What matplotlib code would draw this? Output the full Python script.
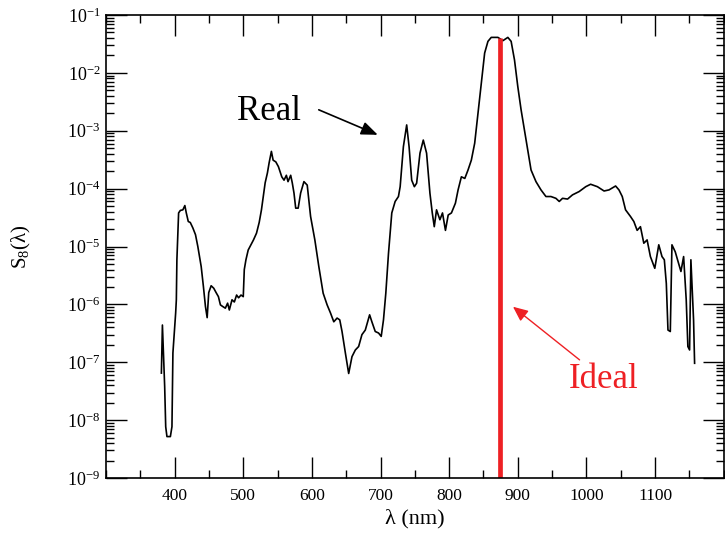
import matplotlib
matplotlib.use("Agg")
import matplotlib.pyplot as plt
from matplotlib.ticker import LogLocator, MultipleLocator, NullFormatter

plt.rcParams['font.family'] = ['Liberation Serif', 'DejaVu Serif']
plt.rcParams['mathtext.fontset'] = 'custom'
plt.rcParams['mathtext.rm'] = 'Liberation Serif'
plt.rcParams['mathtext.it'] = 'Liberation Serif:italic'

wavelength = [380.7, 382.2, 385.5, 387.0, 388.8, 393.8, 396.1, 397.5, 401.5, 402.5,
              403.3, 405.8, 408.3, 412.0, 414.9, 417.0, 419.9, 422.8, 426.5, 430.4,
              433.8, 438.7, 442.0, 444.9, 447.4, 449.7, 453.2, 457.0, 460.4, 463.8,
              466.7, 470.0, 473.9, 477.2, 479.7, 483.6, 487.0, 490.3, 493.2, 496.7,
              500.0, 501.5, 503.9, 507.2, 511.2, 514.9, 519.3, 523.2, 526.5, 531.9,
              535.2, 537.7, 541.0, 543.5, 547.4, 551.2, 556.1, 559.4, 562.8, 565.2,
              569.1, 571.4, 573.9, 576.4, 580.0, 583.6, 588.4, 593.2, 598.1, 604.3,
              610.1, 616.4, 622.2, 627.1, 631.9, 636.7, 640.6, 643.9, 648.8, 653.6,
              658.4, 663.3, 668.1, 672.9, 677.8, 684.1, 687.4, 692.3, 697.1, 701.0,
              704.3, 707.7, 711.6, 716.4, 721.3, 726.1, 728.6, 733.3, 738.1, 741.6,
              745.4, 749.3, 752.6, 757.5, 762.3, 767.1, 772.0, 775.4, 778.3, 781.6,
              786.5, 790.3, 794.6, 798.6, 803.3, 809.1, 813.0, 817.8, 822.8, 827.5,
              832.3, 837.2, 842.0, 846.7, 851.7, 856.5, 861.3, 871.0, 878.3, 885.5,
              890.3, 895.2, 900.0, 904.8, 909.7, 914.5, 919.3, 926.5, 933.8, 941.0,
              948.3, 955.5, 960.4, 965.2, 972.5, 979.7, 989.4, 999.0, 1006.1, 1016.0,
              1025.7, 1032.9, 1042.5, 1047.4, 1052.2, 1057.0, 1064.2, 1069.1, 1073.9, 1078.7,
              1083.6, 1088.4, 1093.2, 1099.6, 1105.4, 1110.1, 1113.5, 1116.4, 1118.8, 1122.2,
              1124.6, 1129.4, 1134.3, 1137.7, 1141.6, 1145.4, 1147.8, 1150.3, 1152.2, 1154.1,
              1156.1, 1157.6]

s8_real = [6.5e-8, 4.4e-7, 3.8e-8, 7.7e-9, 5.2e-9, 5.2e-9, 7.7e-9, 1.45e-7, 7.1e-7, 1.2e-6,
           5.9e-6, 3.8e-5, 4.2e-5, 4.3e-5, 5.1e-5, 3.8e-5, 2.7e-5, 2.6e-5, 2.1e-5, 1.6e-5,
           1.0e-5, 4.5e-6, 2.0e-6, 9.2e-7, 5.9e-7, 1.6e-6, 2.1e-6, 1.9e-6, 1.6e-6, 1.36e-6,
           9.8e-7, 9.2e-7, 8.6e-7, 1.05e-6, 8.0e-7, 1.2e-6, 1.1e-6, 1.45e-6, 1.3e-6, 1.45e-6,
           1.36e-6, 4.0e-6, 5.9e-6, 8.7e-6, 1.07e-5, 1.3e-5, 1.7e-5, 2.6e-5, 4.3e-5, 1.26e-4,
           1.87e-4, 2.8e-4, 4.4e-4, 3.1e-4, 2.9e-4, 2.4e-4, 1.6e-4, 1.4e-4, 1.7e-4, 1.32e-4,
           1.7e-4, 1.26e-4, 8.4e-5, 4.6e-5, 4.6e-5, 8.4e-5, 1.32e-4, 1.15e-4, 3.3e-5, 1.3e-5,
           4.5e-6, 1.56e-6, 9.8e-7, 7.1e-7, 5.0e-7, 5.8e-7, 5.4e-7, 3.4e-7, 1.44e-7, 6.4e-8,
           1.25e-7, 1.63e-7, 1.87e-7, 3.0e-7, 3.6e-7, 6.6e-7, 5.0e-7, 3.4e-7, 3.2e-7, 2.8e-7,
           5.4e-7, 1.56e-6, 7.6e-6, 3.8e-5, 6.0e-5, 7.3e-5, 1.08e-4, 5.3e-4, 1.26e-3, 5.3e-4,
           1.4e-4, 1.08e-4, 1.24e-4, 4.1e-4, 6.9e-4, 4.1e-4, 8.3e-5, 3.8e-5, 2.2e-5, 4.3e-5,
           2.9e-5, 3.8e-5, 1.9e-5, 3.5e-5, 3.8e-5, 5.6e-5, 9.5e-5, 1.6e-4, 1.5e-4, 2.1e-4,
           3.1e-4, 6.1e-4, 2.0e-3, 6.6e-3, 2.2e-2, 3.5e-2, 4.1e-2, 4.1e-2, 3.6e-2, 4.1e-2,
           3.5e-2, 1.67e-2, 5.8e-3, 2.3e-3, 1.03e-3, 4.7e-4, 2.1e-4, 1.32e-4, 9.5e-5, 7.3e-5,
           7.3e-5, 6.8e-5, 6.0e-5, 6.8e-5, 6.6e-5, 7.8e-5, 8.9e-5, 1.08e-4, 1.19e-4, 1.08e-4,
           9.1e-5, 9.5e-5, 1.11e-4, 9.5e-5, 7.3e-5, 4.3e-5, 3.3e-5, 2.7e-5, 1.9e-5, 2.2e-5,
           1.14e-5, 1.3e-5, 6.7e-6, 4.2e-6, 1.07e-5, 6.7e-6, 5.9e-6, 2.3e-6, 3.6e-7, 3.4e-7,
           1.07e-5, 8.1e-6, 5.1e-6, 3.7e-6, 6.7e-6, 1.2e-6, 1.87e-7, 1.63e-7, 5.9e-6, 1.78e-6,
           5.4e-7, 9.6e-8]

# ideal filter: a single line
ideal_wl = 874
ideal_top = 4.0e-2

x_ticks = [400, 500, 600, 700, 800, 900, 1000, 1100]
y_ticks = [1e-9, 1e-8, 1e-7, 1e-6, 1e-5, 1e-4, 1e-3, 1e-2, 1e-1]

fig = plt.figure(figsize=(7.25, 5.35), dpi=100)
ax = fig.add_axes([0.1462, 0.1065, 0.852, 0.8655])

ax.plot(wavelength, s8_real, color='black', lw=1.2)
ax.plot([ideal_wl, ideal_wl], [1e-9, ideal_top], color='#ee2024', lw=3.4, solid_capstyle='butt')

ax.set_yscale('log')
ax.set_xlim(300, 1200)
ax.set_ylim(1e-9, 1e-1)

ax.set_xticks(x_ticks)
ax.xaxis.set_minor_locator(MultipleLocator(50))
ax.set_yticks(y_ticks)
ax.yaxis.set_minor_locator(LogLocator(base=10, subs=range(2, 10), numticks=20))
ax.yaxis.set_minor_formatter(NullFormatter())

ax.tick_params(which='both', direction='in', top=True, right=True, width=1.0)
ax.tick_params(axis='x', labelsize=12.5)
ax.tick_params(axis='y', labelsize=13)
ax.tick_params(which='major', length=15)
ax.tick_params(which='minor', length=6)
ax.tick_params(axis='x', which='major', pad=7)
ax.tick_params(axis='y', which='major', pad=4)
for s in ax.spines.values():
    s.set_linewidth(1.2)

ax.set_xlabel('λ (nm)', fontsize=16, labelpad=4)
ax.set_ylabel('S$_8$(λ)', fontsize=15)
ax.yaxis.set_label_coords(-0.118, 0.5)

# annotations
ax.text(537, 1.55e-3, 'Real', fontsize=25, ha='center', va='baseline')
ax.annotate('', xy=(696, 8.5e-4), xytext=(610, 2.3e-3),
            arrowprops=dict(arrowstyle='-|>,head_length=0.5,head_width=0.2',
                            mutation_scale=20, color='black', lw=1.2,
                            shrinkA=0, shrinkB=0))
ax.text(1025, 3.6e-8, 'Ideal', fontsize=25, ha='center', va='baseline', color='#ee2024')
ax.annotate('', xy=(893, 9.1e-7), xytext=(990, 1.1e-7),
            arrowprops=dict(arrowstyle='-|>,head_length=0.45,head_width=0.2',
                            mutation_scale=20, color='#ee2024', lw=1.0,
                            shrinkA=0, shrinkB=0))

fig.savefig('out.png', dpi=100)
